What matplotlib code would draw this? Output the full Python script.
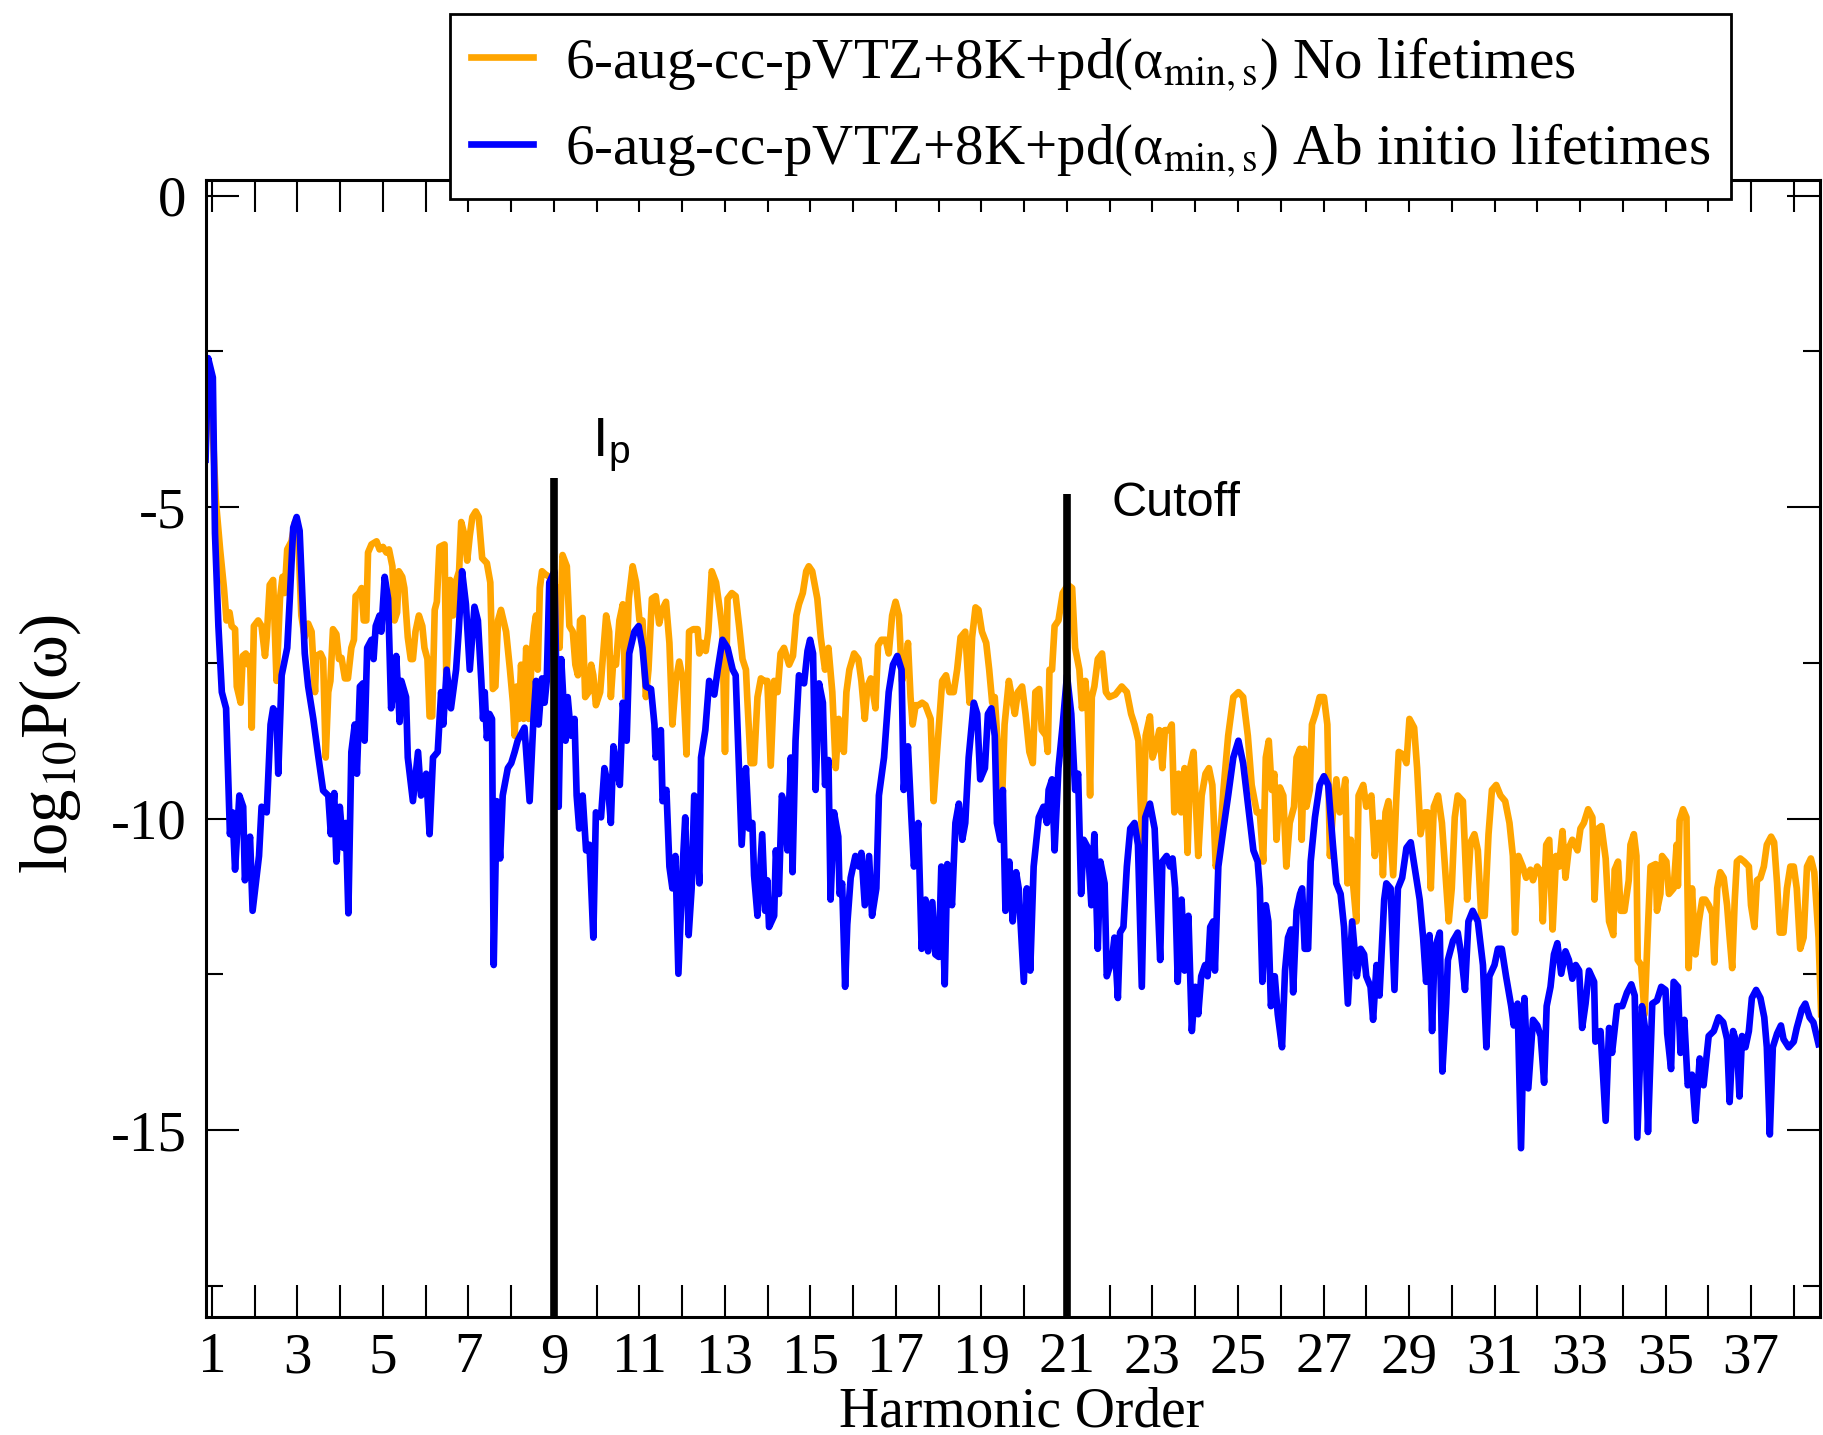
import numpy as np
import matplotlib.pyplot as plt
from matplotlib.ticker import MultipleLocator

plt.rcParams['font.family'] = 'Liberation Serif'
plt.rcParams['mathtext.fontset'] = 'stix'
plt.rcParams['axes.unicode_minus'] = False

# DATA (harmonic order, log10 P(w))
no_lifetimes = [
    (0.85, -4.10), (0.89, -2.88), (0.99, -3.31), (1.09, -4.89), (1.19, -5.68), (1.28, -6.30), (1.34, -6.82),
    (1.41, -6.69), (1.46, -6.91), (1.54, -6.96), (1.58, -7.88), (1.67, -8.14), (1.72, -7.39), (1.79, -7.35),
    (1.85, -7.53), (1.89, -7.39), (1.93, -8.54), (1.98, -6.91), (2.08, -6.82), (2.16, -6.91), (2.24, -7.39),
    (2.28, -7.09), (2.35, -6.25), (2.43, -6.17), (2.51, -7.79), (2.59, -6.47), (2.65, -6.12), (2.70, -6.38),
    (2.76, -5.68), (2.86, -5.55), (2.94, -5.24), (3.02, -5.51), (3.09, -6.74), (3.17, -7.09), (3.25, -6.87),
    (3.33, -7.00), (3.41, -7.97), (3.44, -7.39), (3.54, -7.35), (3.60, -7.44), (3.66, -9.02), (3.72, -7.97),
    (3.77, -7.79), (3.83, -6.96), (3.91, -7.04), (3.97, -7.44), (4.03, -7.42), (4.11, -7.75), (4.18, -7.75),
    (4.26, -7.26), (4.32, -7.13), (4.36, -6.43), (4.44, -6.38), (4.50, -6.30), (4.55, -6.82), (4.61, -6.82),
    (4.65, -5.73), (4.73, -5.60), (4.85, -5.55), (4.92, -5.68), (5.00, -5.64), (5.08, -5.73), (5.14, -5.68),
    (5.22, -5.95), (5.27, -6.82), (5.33, -6.69), (5.37, -6.03), (5.45, -6.12), (5.50, -6.30), (5.58, -7.09),
    (5.65, -7.44), (5.70, -7.44), (5.76, -7.00), (5.84, -6.74), (5.92, -6.91), (5.97, -7.26), (6.04, -7.44),
    (6.09, -8.36), (6.15, -8.36), (6.21, -6.65), (6.26, -6.52), (6.32, -5.64), (6.44, -5.60), (6.48, -7.75),
    (6.52, -7.26), (6.57, -6.17), (6.64, -6.74), (6.70, -6.21), (6.78, -6.03), (6.83, -5.24), (6.91, -5.46),
    (6.97, -5.86), (7.03, -5.46), (7.09, -5.16), (7.17, -5.07), (7.24, -5.16), (7.32, -5.82), (7.43, -5.90),
    (7.51, -6.21), (7.57, -7.92), (7.63, -7.88), (7.69, -6.82), (7.76, -6.65), (7.88, -7.00), (7.97, -7.61),
    (8.04, -8.14), (8.08, -8.67), (8.13, -7.88), (8.18, -8.40), (8.23, -7.53), (8.29, -8.40), (8.35, -7.26),
    (8.41, -8.40), (8.49, -7.26), (8.54, -6.91), (8.58, -6.74), (8.62, -7.61), (8.67, -6.30), (8.72, -6.03),
    (8.80, -6.08), (8.89, -6.12), (9.06, -6.30), (9.13, -7.26), (9.20, -5.77), (9.30, -5.95), (9.36, -6.91),
    (9.44, -7.00), (9.50, -7.53), (9.56, -7.70), (9.61, -6.82), (9.67, -6.78), (9.73, -8.05), (9.81, -7.97),
    (9.87, -7.53), (9.92, -7.70), (9.98, -8.18), (10.08, -7.97), (10.14, -7.44), (10.22, -6.74), (10.29, -7.00),
    (10.33, -8.05), (10.39, -7.44), (10.45, -7.53), (10.53, -6.82), (10.61, -6.56), (10.67, -8.05), (10.75, -6.47),
    (10.84, -5.95), (10.92, -6.21), (11.00, -6.82), (11.07, -6.82), (11.15, -8.05), (11.21, -7.61), (11.29, -6.47),
    (11.38, -6.43), (11.46, -6.87), (11.53, -6.65), (11.62, -6.52), (11.70, -7.18), (11.77, -8.49), (11.85, -7.79),
    (11.93, -7.48), (12.02, -7.79), (12.10, -8.97), (12.16, -7.00), (12.26, -6.96), (12.36, -6.96), (12.40, -7.35),
    (12.47, -7.18), (12.55, -7.31), (12.61, -7.00), (12.69, -6.03), (12.79, -6.21), (12.88, -6.65), (12.94, -7.00),
    (13.00, -8.93), (13.06, -6.47), (13.16, -6.38), (13.25, -6.43), (13.33, -6.91), (13.41, -7.44), (13.49, -7.61),
    (13.52, -8.05), (13.60, -9.11), (13.68, -9.11), (13.76, -8.05), (13.84, -7.75), (13.91, -7.79), (13.99, -7.79),
    (14.07, -9.15), (14.15, -7.79), (14.23, -7.97), (14.30, -7.35), (14.38, -7.26), (14.50, -7.53), (14.59, -7.39),
    (14.67, -6.74), (14.73, -6.56), (14.82, -6.38), (14.90, -6.03), (14.96, -5.95), (15.04, -6.03), (15.16, -6.47),
    (15.24, -7.09), (15.34, -7.61), (15.42, -7.26), (15.51, -7.97), (15.59, -9.19), (15.66, -8.40), (15.78, -8.93),
    (15.84, -7.97), (15.91, -7.61), (16.02, -7.35), (16.12, -7.44), (16.19, -7.79), (16.27, -8.40), (16.33, -7.88),
    (16.41, -7.75), (16.46, -7.97), (16.52, -8.23), (16.58, -7.22), (16.66, -7.13), (16.76, -7.13), (16.83, -7.35),
    (16.91, -6.74), (16.99, -6.52), (17.07, -6.74), (17.14, -7.79), (17.22, -7.61), (17.28, -7.18), (17.34, -8.05),
    (17.39, -8.49), (17.46, -8.18), (17.53, -8.18), (17.61, -8.14), (17.69, -8.18), (17.81, -8.40), (17.88, -9.72),
    (17.96, -8.93), (18.08, -7.79), (18.17, -7.70), (18.25, -7.97), (18.35, -7.97), (18.43, -7.61), (18.51, -7.09),
    (18.62, -7.00), (18.72, -8.14), (18.78, -7.09), (18.86, -6.61), (18.93, -6.65), (19.01, -7.00), (19.11, -7.18),
    (19.18, -7.61), (19.25, -8.14), (19.31, -8.05), (19.39, -8.93), (19.48, -9.72), (19.54, -8.49), (19.64, -7.79),
    (19.71, -8.05), (19.78, -8.32), (19.85, -7.97), (19.95, -7.88), (20.03, -8.32), (20.12, -8.93), (20.20, -9.11),
    (20.26, -7.97), (20.35, -7.92), (20.41, -8.58), (20.51, -8.67), (20.55, -8.93), (20.59, -7.61), (20.65, -7.61),
    (20.71, -6.91), (20.80, -6.82), (20.90, -6.38), (21.02, -6.25), (21.12, -6.30), (21.19, -7.26), (21.29, -7.61),
    (21.35, -8.23), (21.43, -7.79), (21.49, -8.32), (21.54, -9.63), (21.58, -8.05), (21.64, -7.88), (21.72, -7.44),
    (21.82, -7.35), (21.91, -7.97), (21.99, -8.05), (22.13, -8.01), (22.28, -7.88), (22.40, -7.97), (22.50, -8.32),
    (22.58, -8.49), (22.67, -8.75), (22.77, -10.60), (22.84, -8.67), (22.94, -8.36), (23.00, -9.02), (23.08, -8.84),
    (23.16, -8.58), (23.23, -9.19), (23.29, -8.58), (23.39, -8.58), (23.45, -8.49), (23.51, -9.90), (23.61, -9.28),
    (23.67, -9.90), (23.75, -9.19), (23.82, -10.55), (23.88, -9.19), (23.96, -8.93), (24.07, -10.60), (24.15, -9.63),
    (24.24, -9.28), (24.32, -9.19), (24.40, -9.46), (24.48, -10.77), (24.56, -10.51), (24.66, -9.54), (24.77, -8.67),
    (24.89, -8.05), (25.01, -7.97), (25.12, -8.05), (25.23, -8.67), (25.32, -9.46), (25.44, -9.90), (25.51, -9.90),
    (25.59, -10.69), (25.65, -9.02), (25.72, -8.75), (25.79, -9.54), (25.85, -9.28), (25.90, -10.34), (25.98, -9.50),
    (26.06, -9.63), (26.13, -10.77), (26.21, -10.07), (26.31, -9.81), (26.37, -9.02), (26.45, -8.88), (26.49, -10.34),
    (26.55, -8.88), (26.60, -9.81), (26.68, -9.54), (26.73, -8.49), (26.81, -8.32), (26.91, -8.05), (27.01, -8.05),
    (27.09, -8.49), (27.15, -10.60), (27.22, -9.90), (27.30, -9.37), (27.38, -9.90), (27.46, -9.63), (27.51, -9.37),
    (27.56, -11.04), (27.64, -10.34), (27.69, -11.04), (27.77, -11.65), (27.82, -9.63), (27.93, -9.46), (28.00, -9.81),
    (28.12, -9.63), (28.20, -10.60), (28.28, -10.07), (28.34, -10.07), (28.39, -10.91), (28.45, -9.90), (28.52, -9.72),
    (28.63, -10.91), (28.70, -9.72), (28.76, -8.93), (28.86, -8.97), (28.94, -9.11), (29.01, -8.40), (29.12, -8.54),
    (29.19, -9.19), (29.27, -10.25), (29.37, -9.90), (29.44, -9.90), (29.51, -11.12), (29.58, -9.81), (29.68, -9.63),
    (29.77, -10.07), (29.85, -10.86), (29.93, -11.65), (30.00, -11.12), (30.07, -9.98), (30.14, -9.63), (30.26, -9.72),
    (30.36, -11.30), (30.44, -10.38), (30.53, -10.25), (30.61, -10.51), (30.69, -11.56), (30.77, -11.56), (30.86, -10.25),
    (30.94, -9.54), (31.04, -9.46), (31.14, -9.63), (31.25, -9.72), (31.35, -10.07), (31.43, -10.60), (31.48, -11.83),
    (31.56, -10.60), (31.66, -10.77), (31.74, -10.95), (31.84, -10.82), (31.90, -10.99), (32.00, -10.77), (32.09, -10.86),
    (32.13, -11.65), (32.21, -10.42), (32.28, -10.34), (32.36, -11.78), (32.44, -10.60), (32.51, -10.77), (32.59, -10.20),
    (32.66, -10.95), (32.74, -10.47), (32.82, -10.34), (32.94, -10.51), (33.01, -10.16), (33.09, -10.07), (33.19, -9.85),
    (33.29, -9.98), (33.34, -11.30), (33.42, -10.16), (33.50, -10.12), (33.60, -10.64), (33.68, -11.65), (33.78, -11.87),
    (33.81, -10.82), (33.89, -10.69), (33.95, -11.48), (34.04, -11.48), (34.14, -10.99), (34.18, -10.42), (34.26, -10.25),
    (34.32, -10.60), (34.35, -12.27), (34.43, -12.35), (34.51, -13.14), (34.59, -11.74), (34.65, -10.77), (34.77, -10.73),
    (34.80, -11.48), (34.88, -11.21), (34.92, -10.60), (35.02, -10.69), (35.08, -11.21), (35.19, -11.12), (35.26, -10.42),
    (35.29, -11.08), (35.33, -10.03), (35.41, -9.85), (35.49, -9.98), (35.54, -12.40), (35.62, -11.12), (35.70, -12.18),
    (35.78, -11.65), (35.86, -11.30), (35.93, -11.30), (36.01, -11.39), (36.09, -11.52), (36.14, -12.31), (36.21, -11.12),
    (36.28, -10.86), (36.36, -10.95), (36.44, -11.39), (36.50, -11.91), (36.56, -12.40), (36.62, -11.30), (36.67, -10.69),
    (36.75, -10.64), (36.84, -10.69), (36.95, -10.77), (37.00, -11.39), (37.08, -11.74), (37.14, -10.99), (37.22, -10.95),
    (37.30, -10.77), (37.37, -10.42), (37.47, -10.29), (37.54, -10.38), (37.61, -11.04), (37.67, -11.83), (37.76, -11.83),
    (37.84, -11.12), (37.92, -10.77), (38.00, -10.77), (38.07, -11.12), (38.15, -12.09), (38.23, -11.91), (38.31, -10.77),
    (38.40, -10.64), (38.48, -10.86), (38.58, -11.91), (38.64, -13.14),
]

ab_initio = [
    (0.85, -4.24), (0.91, -2.61), (1.02, -2.92), (1.07, -5.42), (1.15, -6.91), (1.23, -7.97), (1.33, -8.23),
    (1.42, -10.25), (1.48, -9.90), (1.54, -10.82), (1.64, -9.63), (1.73, -9.81), (1.77, -10.99), (1.89, -10.29),
    (1.95, -11.48), (2.10, -10.60), (2.16, -9.81), (2.28, -9.90), (2.37, -8.49), (2.43, -8.23), (2.51, -8.32),
    (2.55, -9.28), (2.63, -7.70), (2.76, -7.26), (2.82, -6.47), (2.90, -5.33), (2.98, -5.16), (3.05, -5.38),
    (3.17, -7.35), (3.25, -7.88), (3.37, -8.40), (3.48, -8.97), (3.60, -9.55), (3.72, -9.63), (3.78, -10.25),
    (3.86, -9.59), (3.91, -10.69), (3.99, -9.81), (4.07, -10.47), (4.13, -10.07), (4.19, -11.52), (4.26, -8.93),
    (4.34, -8.49), (4.39, -9.28), (4.46, -7.88), (4.53, -7.83), (4.57, -8.75), (4.63, -7.26), (4.73, -7.13),
    (4.78, -7.44), (4.83, -6.91), (4.92, -6.74), (4.96, -7.00), (5.04, -6.12), (5.12, -6.47), (5.19, -8.23),
    (5.27, -7.79), (5.31, -7.39), (5.39, -8.45), (5.43, -7.79), (5.54, -8.05), (5.58, -9.02), (5.70, -9.72),
    (5.82, -8.93), (5.89, -9.63), (6.01, -9.28), (6.09, -10.25), (6.17, -9.02), (6.28, -8.93), (6.36, -7.97),
    (6.41, -8.49), (6.49, -7.61), (6.59, -8.23), (6.71, -7.61), (6.77, -7.00), (6.85, -6.03), (6.94, -6.56),
    (7.03, -7.61), (7.14, -6.60), (7.22, -6.82), (7.30, -7.79), (7.34, -8.40), (7.38, -7.97), (7.43, -8.71),
    (7.49, -8.32), (7.55, -8.40), (7.59, -12.35), (7.66, -9.72), (7.74, -10.64), (7.80, -9.63), (7.92, -9.19),
    (8.00, -9.11), (8.08, -8.93), (8.15, -8.75), (8.31, -8.54), (8.43, -9.72), (8.52, -8.40), (8.58, -7.79),
    (8.64, -8.49), (8.72, -7.75), (8.78, -8.14), (8.83, -7.79), (8.89, -6.21), (9.01, -6.03), (9.11, -9.81),
    (9.17, -7.44), (9.27, -8.75), (9.32, -8.05), (9.40, -8.67), (9.48, -8.40), (9.53, -9.63), (9.59, -10.16),
    (9.67, -9.63), (9.75, -10.51), (9.83, -10.42), (9.92, -11.91), (9.98, -9.90), (10.10, -9.98), (10.18, -9.19),
    (10.26, -9.46), (10.33, -10.07), (10.39, -8.84), (10.49, -9.28), (10.54, -9.46), (10.61, -8.14), (10.70, -8.75),
    (10.76, -7.35), (10.88, -7.00), (10.98, -6.91), (11.07, -7.26), (11.15, -7.88), (11.27, -7.92), (11.35, -8.49),
    (11.38, -9.02), (11.50, -8.58), (11.54, -9.72), (11.63, -9.54), (11.70, -10.77), (11.77, -11.12), (11.84, -10.60),
    (11.91, -12.49), (12.01, -10.77), (12.07, -9.98), (12.15, -11.87), (12.22, -11.12), (12.28, -9.63), (12.40, -11.04),
    (12.44, -9.02), (12.54, -8.58), (12.63, -7.79), (12.75, -8.01), (12.83, -7.61), (12.94, -7.13), (13.06, -7.26),
    (13.18, -7.61), (13.25, -7.70), (13.33, -9.28), (13.39, -10.42), (13.49, -9.19), (13.56, -10.16), (13.64, -10.07),
    (13.68, -10.91), (13.76, -11.56), (13.87, -10.25), (13.94, -11.48), (13.99, -10.99), (14.03, -11.74), (14.15, -11.56),
    (14.19, -10.51), (14.26, -11.21), (14.33, -9.63), (14.40, -9.81), (14.46, -10.51), (14.54, -9.02), (14.58, -10.86),
    (14.65, -8.75), (14.73, -7.70), (14.85, -7.83), (14.93, -7.31), (14.99, -7.13), (15.06, -7.35), (15.12, -9.54),
    (15.20, -7.83), (15.29, -8.14), (15.34, -9.46), (15.42, -9.06), (15.47, -11.30), (15.55, -9.90), (15.65, -10.29),
    (15.68, -11.21), (15.74, -11.04), (15.81, -12.70), (15.86, -11.70), (15.94, -10.95), (16.05, -10.60), (16.13, -10.77),
    (16.19, -10.55), (16.27, -11.39), (16.37, -10.60), (16.44, -11.56), (16.54, -11.12), (16.60, -9.63), (16.72, -9.02),
    (16.83, -7.97), (16.93, -7.53), (17.03, -7.39), (17.13, -7.61), (17.18, -9.54), (17.28, -8.84), (17.36, -9.98),
    (17.42, -10.77), (17.52, -10.07), (17.60, -12.09), (17.69, -11.30), (17.75, -12.13), (17.85, -11.34), (17.92, -12.18),
    (18.00, -12.22), (18.06, -10.77), (18.14, -12.66), (18.20, -10.73), (18.31, -11.39), (18.39, -10.07), (18.47, -9.76),
    (18.55, -10.34), (18.62, -10.07), (18.70, -9.02), (18.82, -8.14), (18.90, -8.32), (18.97, -9.37), (19.08, -9.19),
    (19.15, -8.32), (19.23, -8.23), (19.31, -8.67), (19.36, -10.07), (19.44, -10.34), (19.50, -9.54), (19.56, -11.48),
    (19.65, -10.69), (19.73, -11.65), (19.81, -10.86), (19.87, -11.12), (19.99, -12.62), (20.06, -11.12), (20.14, -12.44),
    (20.22, -10.77), (20.34, -9.98), (20.45, -9.81), (20.53, -10.07), (20.57, -9.54), (20.65, -9.37), (20.71, -10.51),
    (20.80, -9.19), (20.90, -8.49), (21.00, -7.70), (21.10, -8.32), (21.19, -9.54), (21.26, -9.28), (21.33, -11.21),
    (21.39, -10.34), (21.49, -10.47), (21.57, -11.39), (21.64, -10.25), (21.72, -12.09), (21.78, -10.69), (21.88, -11.04),
    (21.93, -12.53), (22.05, -12.27), (22.11, -11.91), (22.19, -12.88), (22.24, -11.83), (22.32, -11.74), (22.40, -10.77),
    (22.48, -10.16), (22.58, -10.07), (22.66, -10.42), (22.75, -12.70), (22.83, -9.98), (22.94, -9.76), (23.05, -10.16),
    (23.18, -12.27), (23.23, -10.69), (23.33, -10.60), (23.41, -10.77), (23.47, -10.64), (23.53, -11.12), (23.59, -12.62),
    (23.68, -11.30), (23.75, -12.44), (23.84, -11.56), (23.92, -13.41), (24.00, -12.70), (24.07, -13.14), (24.14, -12.53),
    (24.23, -12.35), (24.29, -12.53), (24.35, -11.74), (24.42, -11.65), (24.46, -12.44), (24.54, -10.77), (24.66, -10.16),
    (24.77, -9.63), (24.89, -9.02), (25.01, -8.75), (25.12, -9.11), (25.24, -9.81), (25.36, -10.51), (25.46, -10.69),
    (25.51, -11.12), (25.57, -12.62), (25.65, -11.39), (25.71, -11.65), (25.77, -13.01), (25.86, -12.53), (25.93, -13.14),
    (26.03, -13.67), (26.10, -12.44), (26.17, -11.91), (26.24, -11.78), (26.29, -12.79), (26.37, -11.48), (26.45, -11.21),
    (26.50, -11.12), (26.56, -12.09), (26.64, -12.09), (26.70, -10.69), (26.80, -9.98), (26.91, -9.46), (27.01, -9.32),
    (27.11, -9.46), (27.22, -10.42), (27.30, -11.04), (27.40, -11.21), (27.48, -11.74), (27.57, -12.97), (27.67, -11.65),
    (27.78, -12.53), (27.87, -12.09), (27.95, -12.18), (28.00, -12.53), (28.10, -12.70), (28.16, -13.23), (28.24, -12.35),
    (28.31, -12.84), (28.42, -11.30), (28.47, -11.04), (28.57, -11.12), (28.66, -12.75), (28.74, -11.12), (28.84, -10.95),
    (28.94, -10.47), (29.04, -10.38), (29.13, -10.77), (29.25, -11.30), (29.33, -11.91), (29.40, -12.62), (29.48, -11.87),
    (29.54, -13.41), (29.60, -12.09), (29.72, -11.83), (29.78, -14.06), (29.87, -12.97), (29.91, -12.27), (30.03, -11.96),
    (30.14, -11.83), (30.22, -12.18), (30.31, -12.75), (30.39, -11.65), (30.49, -11.48), (30.61, -11.65), (30.73, -12.35),
    (30.81, -13.67), (30.88, -12.53), (31.00, -12.35), (31.08, -12.09), (31.17, -12.09), (31.27, -12.53), (31.39, -13.01),
    (31.45, -13.32), (31.54, -12.97), (31.62, -15.29), (31.70, -12.88), (31.79, -14.33), (31.90, -13.23), (32.00, -13.32),
    (32.08, -13.49), (32.16, -14.24), (32.22, -13.01), (32.31, -12.70), (32.39, -12.18), (32.47, -12.00), (32.56, -12.49),
    (32.66, -12.13), (32.74, -12.27), (32.82, -12.57), (32.90, -12.35), (32.98, -12.44), (33.05, -13.36), (33.13, -12.97),
    (33.21, -12.44), (33.33, -12.62), (33.36, -13.58), (33.48, -13.41), (33.60, -14.85), (33.68, -13.36), (33.75, -13.76),
    (33.87, -13.01), (33.99, -13.01), (34.10, -12.79), (34.20, -12.66), (34.28, -12.84), (34.34, -15.12), (34.45, -13.01),
    (34.53, -13.41), (34.59, -15.03), (34.69, -12.97), (34.80, -12.92), (34.90, -12.70), (35.00, -12.75), (35.04, -13.45),
    (35.13, -14.02), (35.19, -12.62), (35.29, -12.70), (35.35, -13.76), (35.44, -13.23), (35.52, -14.28), (35.62, -14.11),
    (35.70, -14.85), (35.80, -13.85), (35.89, -14.28), (36.01, -13.49), (36.13, -13.41), (36.24, -13.19), (36.35, -13.27),
    (36.44, -13.54), (36.50, -14.55), (36.58, -13.41), (36.67, -13.62), (36.73, -14.46), (36.79, -13.49), (36.87, -13.67),
    (36.95, -13.41), (37.02, -12.88), (37.12, -12.75), (37.22, -12.88), (37.31, -13.19), (37.37, -13.67), (37.44, -15.07),
    (37.51, -13.67), (37.61, -13.45), (37.70, -13.32), (37.76, -13.54), (37.88, -13.67), (38.00, -13.58), (38.07, -13.36),
    (38.19, -13.06), (38.27, -12.97), (38.37, -13.19), (38.46, -13.27), (38.58, -13.62),
]

label_no_lt = '6-aug-cc-pVTZ+8K+pd(α$_{\\mathrm{min,s}}$) No lifetimes'
label_ab = '6-aug-cc-pVTZ+8K+pd(α$_{\\mathrm{min,s}}$) Ab initio lifetimes'

marker_orders = [9, 21]          # Ip and cutoff harmonics
marker_tops = [-4.53, -4.79]     # where the black bars end

x_no, y_no = np.array(no_lifetimes).T
x_ab, y_ab = np.array(ab_initio).T

fig = plt.figure(figsize=(18.23, 14.35), dpi=100)
ax = fig.add_axes([0.113, 0.0822, 0.8855, 0.7924])

l1, = ax.plot(x_no, y_no, color='#FFA500', lw=4.8, label=label_no_lt)
l2, = ax.plot(x_ab, y_ab, color='#0000FF', lw=4.8, label=label_ab)
ax.vlines(marker_orders, -18, marker_tops, color='black', lw=5.5, zorder=5)

ax.text(9.88, -4.19, r'I$_\mathregular{p}$', family='Liberation Sans', fontsize=40, va='baseline')
ax.text(22.04, -5.15, 'Cutoff', family='Liberation Sans', fontsize=35, va='baseline')

ax.set_xlim(0.86, 38.62)
ax.set_ylim(-18, 0.25)
ax.set_xticks(np.arange(1, 38, 2))
ax.xaxis.set_minor_locator(MultipleLocator(1))
ax.yaxis.set_major_locator(MultipleLocator(5))
ax.yaxis.set_minor_locator(MultipleLocator(2.5))

ax.tick_params(which='both', direction='in', top=True, right=True, width=1.5,
               labelsize=41, pad=14)
ax.tick_params(axis='x', which='both', length=23, pad=11)
ax.tick_params(axis='y', which='major', length=24)
ax.tick_params(axis='y', which='minor', length=12)
for s in ax.spines.values():
    s.set_linewidth(2.2)

ax.set_xlabel('Harmonic Order', fontsize=40)
ax.xaxis.set_label_coords(0.505, -0.061)
ax.set_ylabel('log$_{\\mathrm{10}}$P(ω)', fontsize=48)
ax.yaxis.set_label_coords(-0.076, 0.504)

leg = fig.legend([l1, l2], [label_no_lt, label_ab], loc='upper left',
                 bbox_to_anchor=(0.247, 0.990), fontsize=41, frameon=True,
                 fancybox=False, edgecolor='black', framealpha=1,
                 borderpad=0.36, handlelength=1.1, handletextpad=0.55,
                 labelspacing=0.5, borderaxespad=0)
leg.get_frame().set_linewidth(2)

fig.savefig('out.png', dpi=100)
